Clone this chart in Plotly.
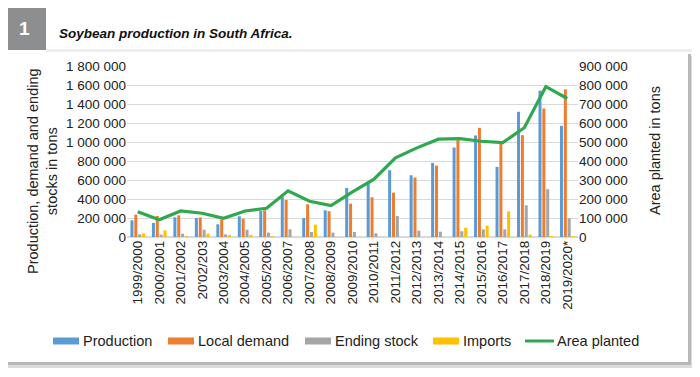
import plotly.graph_objects as go

seasons = ["1999/2000", "2000/2001", "2001/2002", "20'02/203", "2003/2004", "2004/2005",
           "2005/2006", "2006/2007", "2007/2008", "2008/2009", "2009/2010", "2010/2011",
           "2011/2012", "2012/2013", "2013/2014", "2014/2015", "2015/2016", "2016/2017",
           "2017/2018", "2018/2019", "2019/2020*"]

production = [176000, 148000, 207000, 200000, 134000, 218000, 274000, 425000, 200000, 281000,
              517000, 580000, 703000, 650000, 780000, 942000, 1069000, 738000, 1318000, 1540000, 1170000]
local_demand = [235000, 221000, 228000, 207000, 186000, 193000, 281000, 390000, 344000, 271000,
                351000, 418000, 467000, 626000, 752000, 1019000, 1149000, 984000, 1072000, 1353000, 1554000]
ending_stock = [28000, 25000, 35000, 77000, 28000, 77000, 46000, 81000, 53000, 46000,
                53000, 39000, 221000, 67000, 56000, 60000, 81000, 81000, 334000, 503000, 197000]
imports = [35000, 70000, 10000, 35000, 21000, 21000, 7000, 0, 130000, 0,
           0, 0, 0, 0, 0, 98000, 120000, 271000, 25000, 3000, 3000]
area_planted = [133000, 91000, 137000, 125000, 98000, 137000, 151000, 243000, 188000, 165000,
                237000, 304000, 417000, 469000, 515000, 518000, 504000, 497000, 575000, 791000, 729000]

left_ticks = [0, 200000, 400000, 600000, 800000, 1000000, 1200000, 1400000, 1600000, 1800000]
left_labels = ["0", "200 000", "400 000", "600 000", "800 000", "1 000 000", "1 200 000",
               "1 400 000", "1 600 000", "1 800 000"]
right_ticks = [0, 100000, 200000, 300000, 400000, 500000, 600000, 700000, 800000, 900000]
right_labels = ["0", "100 000", "200 000", "300 000", "400 000", "500 000", "600 000",
                "700 000", "800 000", "900 000"]

series_names = ["Production", "Local demand", "Ending stock", "Imports", "Area planted"]
series_colors = ["#5B9BD5", "#ED7D31", "#A5A5A5", "#FFC000", "#2FA84F"]

FONT = "Liberation Sans, Arial, sans-serif"
# page body adds an 8 px margin; the figure is sized so that it fills the window exactly
OFF = 8
W, H = 700 - OFF, 377 - OFF


def px(x):
    return (x - OFF) / W


def py(y):
    return 1 - (y - OFF) / H


PLOT_L, PLOT_R, PLOT_T, PLOT_B = 127, 578, 66, 237

fig = go.Figure()
for name, vals, col in zip(series_names[:4], [production, local_demand, ending_stock, imports],
                           series_colors[:4]):
    fig.add_trace(go.Bar(x=seasons, y=vals, name=name,
                         marker=dict(color=col, line=dict(width=0))))

fig.add_trace(go.Scatter(x=seasons, y=area_planted, name=series_names[4], yaxis="y2",
                         mode="lines", line=dict(color=series_colors[4], width=3.2)))

shapes = [
    dict(type="rect", xref="paper", yref="paper", x0=px(8), x1=px(694), y0=py(368), y1=py(56),
         fillcolor="#dcdcdc", line=dict(width=0), layer="below"),
    dict(type="rect", xref="paper", yref="paper", x0=px(6), x1=px(691), y0=py(365), y1=py(54),
         fillcolor="#b8b8b8", line=dict(width=0), layer="below"),
    dict(type="rect", xref="paper", yref="paper", x0=px(4), x1=px(688), y0=py(362), y1=py(52),
         fillcolor="white", line=dict(width=0), layer="below"),
    dict(type="rect", xref="paper", yref="paper", x0=px(46), x1=px(700), y0=py(52), y1=py(49),
         fillcolor="#eeeeee", line=dict(width=0), layer="below"),
    dict(type="rect", xref="paper", yref="paper", x0=px(3), x1=px(46), y0=py(50), y1=py(5),
         fillcolor="#8c8e90", line=dict(width=0), layer="below"),
]

annotations = [
    dict(text="<b>1</b>", xref="paper", yref="paper", x=px(24.5), y=py(29), showarrow=False,
         font=dict(family=FONT, size=19, color="white"), xanchor="center", yanchor="middle"),
    dict(text="<b><i>Soybean production in South Africa.</i></b>", xref="paper", yref="paper",
         x=px(57), y=py(33), showarrow=False, font=dict(family=FONT, size=13.5, color="#111111"),
         xanchor="left", yanchor="middle"),
    dict(text="Production, demand and ending<br>stocks in tons", xref="paper", yref="paper",
         x=px(42), y=py(171), showarrow=False, textangle=-90, align="center",
         font=dict(family=FONT, size=14.5, color="#222222"), xanchor="center", yanchor="middle"),
    dict(text="Area planted in tons", xref="paper", yref="paper",
         x=px(655), y=py(151), showarrow=False, textangle=-90,
         font=dict(family=FONT, size=14.5, color="#222222"), xanchor="center", yanchor="middle"),
]

# legend drawn as swatches + labels (wide Excel-style keys)
LEG_Y = 341
key_x = [53, 168, 305, 433, 525]
for i, (nm, col) in enumerate(zip(series_names, series_colors)):
    x0 = key_x[i]
    if i < 4:
        shapes.append(dict(type="rect", xref="paper", yref="paper", x0=px(x0), x1=px(x0 + 26),
                           y0=py(LEG_Y + 3.5), y1=py(LEG_Y - 3.5), fillcolor=col,
                           line=dict(width=0)))
    else:
        shapes.append(dict(type="line", xref="paper", yref="paper", x0=px(x0), x1=px(x0 + 29),
                           y0=py(LEG_Y), y1=py(LEG_Y), line=dict(color=col, width=3)))
    annotations.append(dict(text=nm, xref="paper", yref="paper", x=px(x0 + (28 if i < 4 else 30)),
                            y=py(LEG_Y), showarrow=False, xanchor="left", yanchor="middle",
                            font=dict(family=FONT, size=14.5, color="#222222")))

fig.update_layout(
    width=W, height=H,
    margin=dict(l=0, r=0, t=0, b=0, pad=0),
    paper_bgcolor="white", plot_bgcolor="rgba(0,0,0,0)",
    font=dict(family=FONT, size=13, color="#222222"),
    barmode="group", bargap=0.28, bargroupgap=0.22,
    showlegend=False,
    xaxis=dict(type="category", domain=[px(PLOT_L), px(PLOT_R)], tickangle=-90,
               tickfont=dict(size=13.5), showgrid=False, ticks="", showline=False,
               automargin=False),
    yaxis=dict(range=[0, 1800000], domain=[py(PLOT_B), py(PLOT_T)], tickvals=left_ticks,
               ticktext=left_labels, tickfont=dict(size=13.5), showgrid=True,
               gridcolor="#d9d9d9", gridwidth=1, zeroline=True, zerolinecolor="#d9d9d9",
               ticks="", automargin=False),
    yaxis2=dict(range=[0, 900000], tickvals=right_ticks, ticktext=right_labels, overlaying="y",
                side="right", showgrid=False, zeroline=False, tickfont=dict(size=13.5),
                ticks="", automargin=False),
    shapes=shapes, annotations=annotations,
)

fig.write_html("out.html")
